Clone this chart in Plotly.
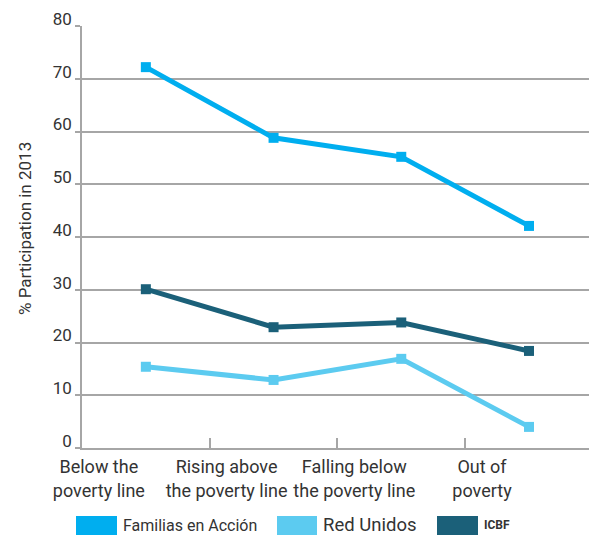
import plotly.graph_objects as go

categories = ["Below the<br>poverty line", "Rising above<br>the poverty line",
              "Falling below<br>the poverty line", "Out of<br>poverty"]
familias = [72.2, 58.8, 55.2, 42.1]
red_unidos = [15.4, 12.9, 16.9, 4.0]
icbf = [30.1, 22.9, 23.8, 18.4]
y_ticks = [0, 10, 20, 30, 40, 50, 60, 70, 80]

series = [
    ("Familias en Acción", familias, "#00AEEF"),
    ("Red Unidos", red_unidos, "#5CCBF0"),
    ("ICBF", icbf, "#1B6079"),
]

FONT = "Roboto"
GRID = "#A6A6A6"
TEXT = "#333333"

fig = go.Figure()
# Draw lighter series first so the dark ones sit on top
for name, vals, col in [series[1], series[2], series[0]]:
    fig.add_trace(go.Scatter(
        x=categories, y=vals, name=name, mode="lines+markers",
        line=dict(color=col, width=5),
        marker=dict(symbol="square", size=10, color=col),
        showlegend=False,
    ))

fig.update_layout(
    width=589, height=535,
    margin=dict(l=82, r=0, t=26, b=87),
    paper_bgcolor="white", plot_bgcolor="white",
    font=dict(family=FONT, color=TEXT),
    xaxis=dict(
        type="category", categoryorder="array", categoryarray=categories,
        range=[-0.5, 3.47], tickson="boundaries", ticks="inside", ticklen=10,
        tickcolor=GRID, tickwidth=1.5, showgrid=False, zeroline=False,
        showline=True, linecolor=GRID, linewidth=1.5,
        tickangle=0, automargin=False,
        tickfont=dict(size=18, family=FONT, color=TEXT),
        ticklabelshift=-47, ticklabelstandoff=2,
    ),
    yaxis=dict(
        range=[0, 80], tickvals=y_ticks, ticks="outside", ticklen=5,
        tickcolor=GRID, tickwidth=1.5, showgrid=True, gridcolor=GRID, gridwidth=1.5,
        zeroline=False, showline=True, linecolor=GRID, linewidth=1.5,
        automargin=False,
        tickfont=dict(size=17, family=FONT, color=TEXT),
        ticklabelshift=-7,
    ),
)

# Axis title placed as rotated text left of the tick labels
fig.add_annotation(text="% Participation in 2013", xref="paper", yref="paper",
                   x=(25 - 82) / 507, y=(448 - 229) / 422, textangle=-90,
                   xanchor="center", yanchor="middle", showarrow=False,
                   font=dict(size=17, family=FONT, color=TEXT))

# Legend drawn as colour swatches with labels along the bottom
legend_items = [
    (series[0][0], series[0][2], 76, 117, dict(size=16)),
    (series[1][0], series[1][2], 277, 317, dict(size=18.5)),
    ("<b>" + series[2][0] + "</b>", series[2][2], 437, 478, dict(size=12)),
]
for label, col, x0, x1, fnt in legend_items:
    fig.add_shape(type="rect", xref="paper", yref="paper",
                  x0=(x0 - 82) / 507, x1=(x1 - 82) / 507,
                  y0=-(535 - 448) / 422, y1=-(516 - 448) / 422,
                  line=dict(width=0), fillcolor=col)
    fig.add_annotation(text=label, xref="paper", yref="paper",
                       x=(x1 + 4 - 82) / 507, y=-(525 - 448) / 422,
                       xanchor="left", yanchor="middle", showarrow=False,
                       font=dict(family=FONT, color=TEXT, **fnt))

fig.write_html("out.html")
